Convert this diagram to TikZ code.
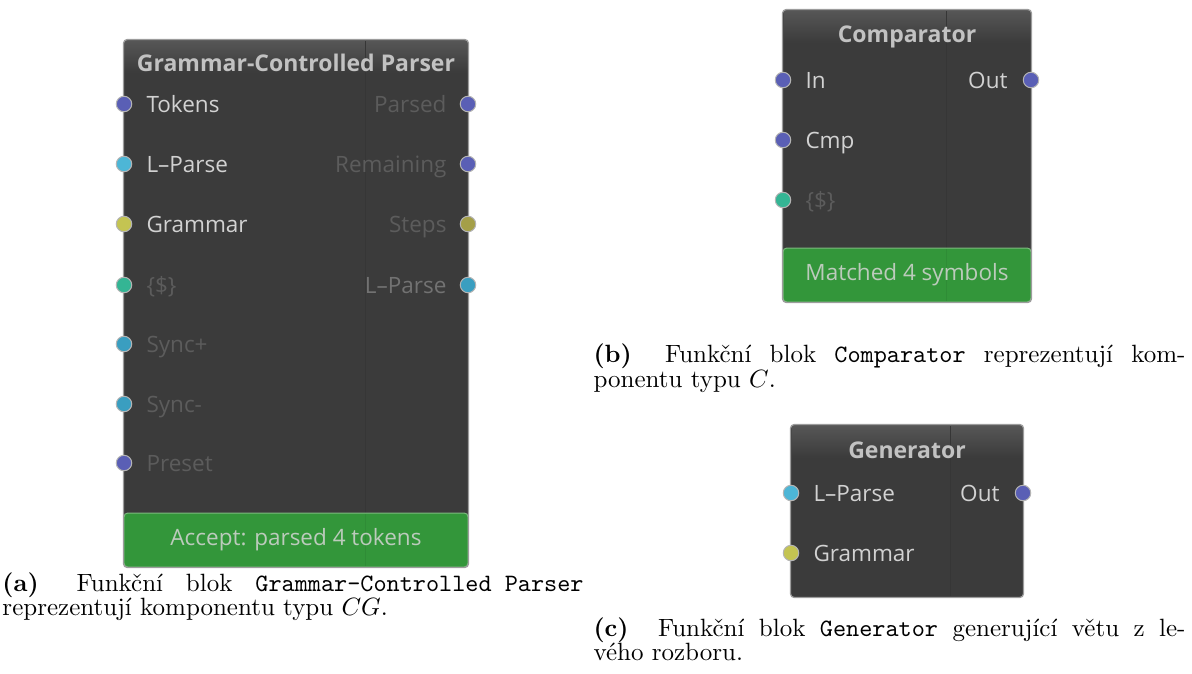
\documentclass[tikz,border=0pt]{standalone}
\usepackage{fontspec}
\newfontfamily\uifont{Open Sans}
\definecolor{bodygray}{HTML}{3B3B3B}
\definecolor{bargray}{HTML}{565656}
\definecolor{framegray}{HTML}{9C9C9C}
\definecolor{seamgray}{HTML}{363636}
\definecolor{footseam}{HTML}{2F8C36}
\definecolor{footgreen}{HTML}{33963A}
\definecolor{footedge}{HTML}{7DB97F}
\definecolor{foottext}{HTML}{BCCBBC}
\definecolor{titletext}{HTML}{C2C2C2}
\definecolor{textlight}{HTML}{D2D2D2}
\definecolor{textdim}{HTML}{5C5C5C}
\definecolor{textmid}{HTML}{727272}
\definecolor{portedge}{HTML}{B4B4B4}
\definecolor{portblue}{HTML}{5A5FB5}
\definecolor{portcyan}{HTML}{4DB6D6}
\definecolor{portsync}{HTML}{3A9EC0}
\definecolor{portyellow}{HTML}{C4C452}
\definecolor{portolive}{HTML}{A49F48}
\definecolor{portteal}{HTML}{34B594}

\begin{document}
\begin{tikzpicture}[x=0.4pt, y=-0.4pt,
    block/.style={fill=bodygray, inner sep=0pt},
    frame/.style={draw=framegray, line width=0.5pt, rounded corners=1.5pt},
    titlebar/.style={top color=bargray, bottom color=bodygray, inner sep=0pt, minimum height=12.8pt, anchor=north},
    hdr/.style={font=\uifont\bfseries\fontsize{9.2}{10}\selectfont, text=titletext, inner sep=0pt},
    footer/.style={fill=footgreen, draw=footedge, line width=0.4pt, rounded corners=1.5pt, inner sep=0pt, minimum height=21.6pt, font=\uifont\fontsize{9}{10}\selectfont, text=foottext},
    seam/.style={seamgray, line width=0.4pt},
    port/.style={circle, draw=portedge, line width=0.4pt, minimum size=6.2pt, inner sep=0pt},
    inlbl/.style={anchor=west, font=\uifont\fontsize{9}{10}\selectfont, inner sep=0pt, text height=6.6pt, text depth=0pt},
    outlbl/.style={inlbl, anchor=east},
    live/.style={text=textlight},
    idle/.style={text=textdim},
    capline/.style={anchor=base west, inner sep=0pt}
]
    \useasboundingbox (0,0) rectangle (1192,673);

    % (a) Grammar-Controlled Parser
    \node[block, minimum width=137.6pt, minimum height=210.8pt] (parser) at (296,303.5) {};
    \node[titlebar, minimum width=137pt] (parserbar) at ([yshift=-0.3pt]parser.north) {};
    \draw[seam] (365,41) -- (365,566);
    \node[footer, minimum width=137.6pt] (parserfoot) at (296,540) {};
    \draw[footseam, line width=0.4pt] (365,514) -- (365,566);
    \node[foottext, font=\uifont\fontsize{9}{10}\selectfont] (parsermsg) at (parserfoot) {Accept: parsed 4 tokens};
    \draw[frame] (parser.north west) rectangle (parser.south east);
    \node[hdr] (parsertitle) at (296,63) {Grammar-Controlled Parser};

    \node[port, fill=portblue]   (p-tokens)   at (124,104) {};
    \node[port, fill=portcyan]   (p-lparse)   at (124,164) {};
    \node[port, fill=portyellow] (p-grammar)  at (124,224) {};
    \node[port, fill=portteal]   (p-dollar)   at (124,285) {};
    \node[port, fill=portsync]   (p-syncp)    at (124,344) {};
    \node[port, fill=portsync]   (p-syncm)    at (124,404) {};
    \node[port, fill=portblue]   (p-preset)   at (124,463) {};
    \node[port, fill=portblue]   (p-parsed)   at (468,104) {};
    \node[port, fill=portblue]   (p-remain)   at (468,164) {};
    \node[port, fill=portolive]  (p-steps)    at (468,224) {};
    \node[port, fill=portsync]   (p-lparseo)  at (468,285) {};

    \node[inlbl, live]  (l-tokens)  at (146,104) {Tokens};
    \node[inlbl, live]  (l-lparse)  at (146,164) {L–Parse};
    \node[inlbl, live]  (l-grammar) at (146,224) {Grammar};
    \node[inlbl, idle]  (l-dollar)  at (146,285) {\{\$\}};
    \node[inlbl, idle]  (l-syncp)   at (146,344) {Sync+};
    \node[inlbl, idle]  (l-syncm)   at (146,404) {Sync-};
    \node[inlbl, idle]  (l-preset)  at (146,463) {Preset};
    \node[outlbl, idle] (l-parsed)  at (447,104) {Parsed};
    \node[outlbl, idle] (l-remain)  at (447,164) {Remaining};
    \node[outlbl, idle] (l-steps)   at (447,224) {Steps};
    \node[outlbl, text=textmid] (l-lparseo) at (447,285) {L–Parse};

    % (b) Comparator
    \node[block, minimum width=99.2pt, minimum height=116.8pt] (cmp) at (907,156) {};
    \node[titlebar, minimum width=98.6pt] (cmpbar) at ([yshift=-0.3pt]cmp.north) {};
    \draw[seam] (946,11) -- (946,301);
    \node[footer, minimum width=99.2pt] (cmpfoot) at (907,275) {};
    \draw[footseam, line width=0.4pt] (946,249) -- (946,301);
    \node[foottext, font=\uifont\fontsize{9}{10}\selectfont] (cmpmsg) at (cmpfoot) {Matched 4 symbols};
    \draw[frame] (cmp.north west) rectangle (cmp.south east);
    \node[hdr] (cmptitle) at (907,37) {Comparator};

    \node[port, fill=portblue]  (c-in)     at (783,80)  {};
    \node[port, fill=portblue]  (c-cmp)    at (783,140) {};
    \node[port, fill=portteal]  (c-dollar) at (783,200) {};
    \node[port, fill=portblue]  (c-out)    at (1031,80) {};

    \node[inlbl, live]  (lc-in)     at (805,80)  {In};
    \node[inlbl, live]  (lc-cmp)    at (805,140) {Cmp};
    \node[inlbl, idle]  (lc-dollar) at (805,200) {\{\$\}};
    \node[outlbl, live] (lc-out)    at (1008,80) {Out};

    % (c) Generator
    \node[block, minimum width=92.8pt, minimum height=68.8pt] (gen) at (907,511) {};
    \node[titlebar, minimum width=92.2pt] (genbar) at ([yshift=-0.3pt]gen.north) {};
    \draw[seam] (950,426) -- (950,596);
    \draw[frame] (gen.north west) rectangle (gen.south east);
    \node[hdr] (gentitle) at (907,450) {Generator};

    \node[port, fill=portcyan]   (g-lparse)  at (791,493)  {};
    \node[port, fill=portyellow] (g-grammar) at (791,553)  {};
    \node[port, fill=portblue]   (g-out)     at (1023,493) {};

    \node[inlbl, live]  (lg-lparse)  at (813,493)  {L–Parse};
    \node[inlbl, live]  (lg-grammar) at (813,553)  {Grammar};
    \node[outlbl, live] (lg-out)     at (1000,493) {Out};

    % captions
    \node[capline] (capa1) at (2,591)   {\makebox[232.4pt][s]{\textbf{(a)}\hspace{0.6em} Funkční blok \texttt{Grammar-Controlled Parser}}};
    \node[capline] (capa2) at (2,615)   {reprezentují komponentu typu $CG$.};
    \node[capline] (capb1) at (593,362) {\makebox[236.8pt][s]{\textbf{(b)}\hspace{0.6em} Funkční blok \texttt{Comparator} reprezentují kom-}};
    \node[capline] (capb2) at (593,387) {ponentu typu $C$.};
    \node[capline] (capc1) at (593,636) {\makebox[236.8pt][s]{\textbf{(c)}\hspace{0.6em} Funkční blok \texttt{Generator} generující větu z le-}};
    \node[capline] (capc2) at (593,660) {vého rozboru.};
\end{tikzpicture}
\end{document}
